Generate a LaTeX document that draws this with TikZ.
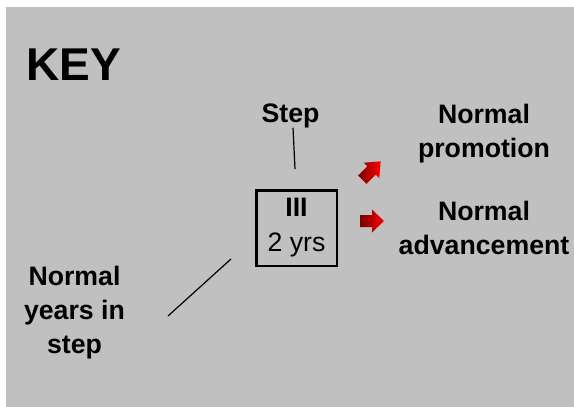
\documentclass[tikz,border=0pt]{standalone}
\usepackage{fontspec}
\setmainfont{Liberation Sans}
\usetikzlibrary{positioning}
\definecolor{keygray}{HTML}{C0C0C0}
\definecolor{arrowdark}{HTML}{7A0000}

\begin{document}
\begin{tikzpicture}[x=1pt,y=-1pt,
  keylbl/.style={font=\fontsize{26.7}{34}\selectfont\bfseries,align=center,inner sep=0pt},
  bigarrow/.style={left color=arrowdark,right color=red}]
  \useasboundingbox(0,0) rectangle (574,407);
  \fill[keygray](6,7) rectangle (574,407);
  % title
  \node[anchor=base west,inner sep=0pt,font=\fontsize{46}{46}\selectfont\bfseries](key) at (26,80){KEY};
  % step box and its labels
  \node[draw,line width=2.5pt,minimum width=80.5pt,minimum height=75.5pt,inner sep=0pt,
    align=center,font=\fontsize{26.7}{35}\selectfont](stepbox) at (296.5,228){\textbf{III}\\2 yrs};
  \node[keylbl,anchor=base](steplbl) at (290.5,122){Step};
  % anchor base sits on the last line
  \node[keylbl,anchor=base](yrslbl) at (74.5,353){Normal\\years in\\step};
  \coordinate (steptip) at (295,169);
  \coordinate (yrsfoot) at (168,316);
  \coordinate (yrstip) at (231,259);
  \draw[line width=1.2pt]([xshift=2.5pt]steplbl.south)--(steptip);
  \draw[line width=1.2pt](yrsfoot)--(yrstip);
  % arrows
  \begin{scope}[shift={(371.5,170.5)},rotate=45]
    \shade[bigarrow](-13,-6)--(0,-6)--(0,-11)--(13,0)--(0,11)--(0,6)--(-13,6)--cycle;
  \end{scope}
  \begin{scope}[shift={(360,221)}]
    \shade[bigarrow](0,-6)--(12,-6)--(12,-11.5)--(24,0)--(12,11.5)--(12,6)--(0,6)--cycle;
  \end{scope}
  \node[keylbl,anchor=base](promolbl) at (484,157){Normal\\promotion};
  \node[keylbl,anchor=base](advlbl) at (484,254){Normal\\advancement};
\end{tikzpicture}
\end{document}
